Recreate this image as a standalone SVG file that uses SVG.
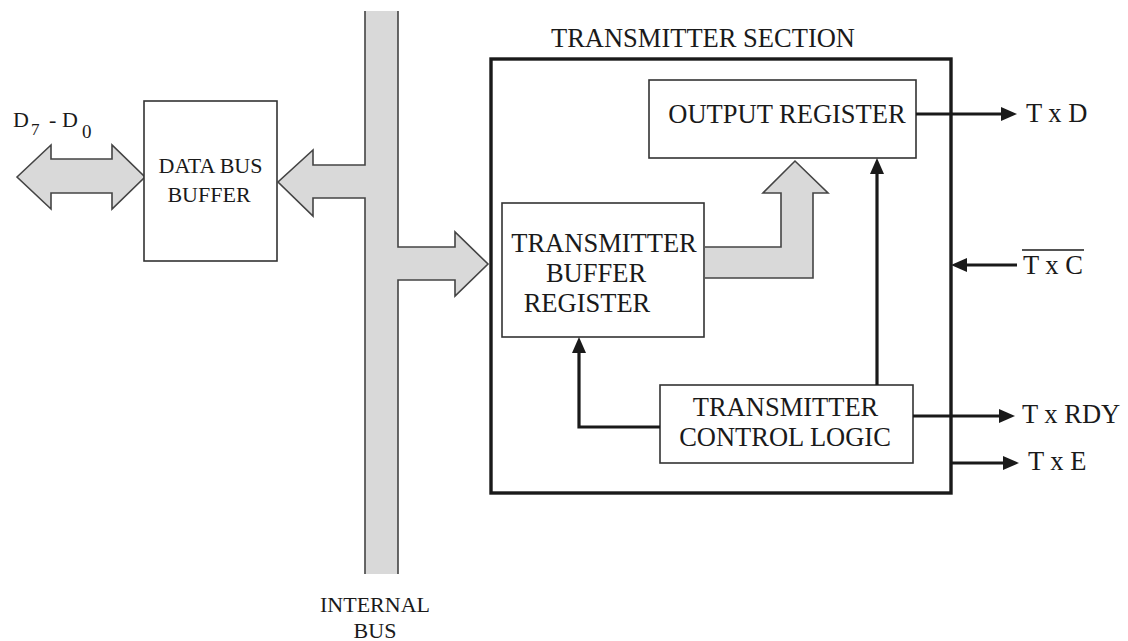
<svg xmlns="http://www.w3.org/2000/svg" width="1128" height="641" viewBox="0 0 1128 641">
<style>
text{font-family:"Liberation Serif","Times New Roman",serif;fill:#1a1a1a}
.t26{font-size:26.5px}
.t22{font-size:22px}
.box{fill:#fff;stroke:#333;stroke-width:1.6}
.gfill{fill:#d9d9d9;stroke:none}
.gline{fill:none;stroke:#444;stroke-width:1.6;stroke-linejoin:miter}
.wire{fill:none;stroke:#1a1a1a;stroke-width:3.2}
</style>
<defs>
<marker id="ah" viewBox="0 0 16 14" refX="6" refY="7" markerWidth="16" markerHeight="14" markerUnits="userSpaceOnUse" orient="auto">
<path d="M0,0 L16,7 L0,14 Z" fill="#1a1a1a"/>
</marker>
</defs>
<rect width="1128" height="641" fill="#fff"/>

<g id="dbus-arrow">
<path class="gfill" d="M17,177 L51,145 L51,159 L112,159 L112,145 L145,177 L112,209 L112,193 L51,193 L51,209 Z"/>
<path class="gline" d="M17,177 L51,145 L51,159 L112,159 L112,145 L145,177 L112,209 L112,193 L51,193 L51,209 Z"/>
<text class="t22" x="13" y="127">D</text>
<text x="31" y="135" style="font-size:17px">7</text>
<text class="t22" x="49" y="127">-</text>
<text class="t22" x="62" y="127">D</text>
<text x="82" y="138" style="font-size:19px">0</text>
</g>

<g id="data-bus-buffer">
<rect class="box" x="144" y="101" width="133" height="160"/>
<text class="t22" x="210.5" y="173" text-anchor="middle">DATA BUS</text>
<text class="t22" x="209" y="202" text-anchor="middle">BUFFER</text>
</g>

<g id="internal-bus">
<path class="gfill" d="M365,11 L398,11 L398,247 L455,247 L455,232 L488,264 L455,296 L455,280 L398,280 L398,574 L365,574 L365,198 L313,198 L313,216 L278,182 L313,150 L313,165 L365,165 Z"/>
<path class="gline" d="M365,11 L365,165 L313,165 L313,150 L278,182 L313,216 L313,198 L365,198 L365,574"/>
<path class="gline" d="M398,11 L398,247 L455,247 L455,232 L488,264 L455,296 L455,280 L398,280 L398,574"/>
<text class="t22" x="375" y="612" text-anchor="middle">INTERNAL</text>
<text class="t22" x="375" y="638" text-anchor="middle">BUS</text>
</g>

<g id="transmitter-section">
<rect x="491" y="59" width="460" height="434" fill="none" stroke="#1a1a1a" stroke-width="3.4"/>
<text class="t26" x="703" y="47" text-anchor="middle">TRANSMITTER SECTION</text>
</g>

<g id="output-register">
<rect class="box" x="649" y="80" width="267" height="78"/>
<text class="t26" x="787" y="123" text-anchor="middle">OUTPUT REGISTER</text>
</g>

<g id="transmitter-buffer-register">
<rect class="box" x="502" y="203" width="202" height="134"/>
<text class="t26" x="604" y="252" text-anchor="middle">TRANSMITTER</text>
<text class="t26" x="596" y="282" text-anchor="middle">BUFFER</text>
<text class="t26" x="587" y="312" text-anchor="middle">REGISTER</text>
</g>

<g id="transmitter-control-logic">
<rect class="box" x="660" y="385" width="253" height="78"/>
<text class="t26" x="785.5" y="416" text-anchor="middle">TRANSMITTER</text>
<text class="t26" x="785" y="446" text-anchor="middle">CONTROL LOGIC</text>
</g>

<g id="connectors">
<path class="gfill" d="M705,247 L781,247 L781,193 L763,193 L795,161 L828,193 L813,193 L813,278 L705,278 Z"/>
<path class="gline" d="M705,247 L781,247 L781,193 L763,193 L795,161 L828,193 L813,193 L813,278 L705,278"/>
<path class="wire" d="M877,385 L877,168" marker-end="url(#ah)"/>
<path class="wire" d="M660,427 L579,427 L579,347" marker-end="url(#ah)" stroke-linejoin="miter"/>
<path class="wire" d="M916,114 L1007,114" marker-end="url(#ah)"/>
<path class="wire" d="M1017,265 L961,265" marker-end="url(#ah)"/>
<path class="wire" d="M913,416 L1005,416" marker-end="url(#ah)"/>
<path class="wire" d="M951,463 L1009,463" marker-end="url(#ah)"/>
</g>

<g id="signal-labels">
<text class="t26" x="1026" y="122">T x D</text>
<text class="t26" x="1023" y="274">T x C</text>
<line x1="1022" y1="250" x2="1084" y2="250" stroke="#1a1a1a" stroke-width="1.5"/>
<text class="t26" x="1022" y="423">T x RDY</text>
<text class="t26" x="1028" y="470">T x E</text>
</g>
</svg>
